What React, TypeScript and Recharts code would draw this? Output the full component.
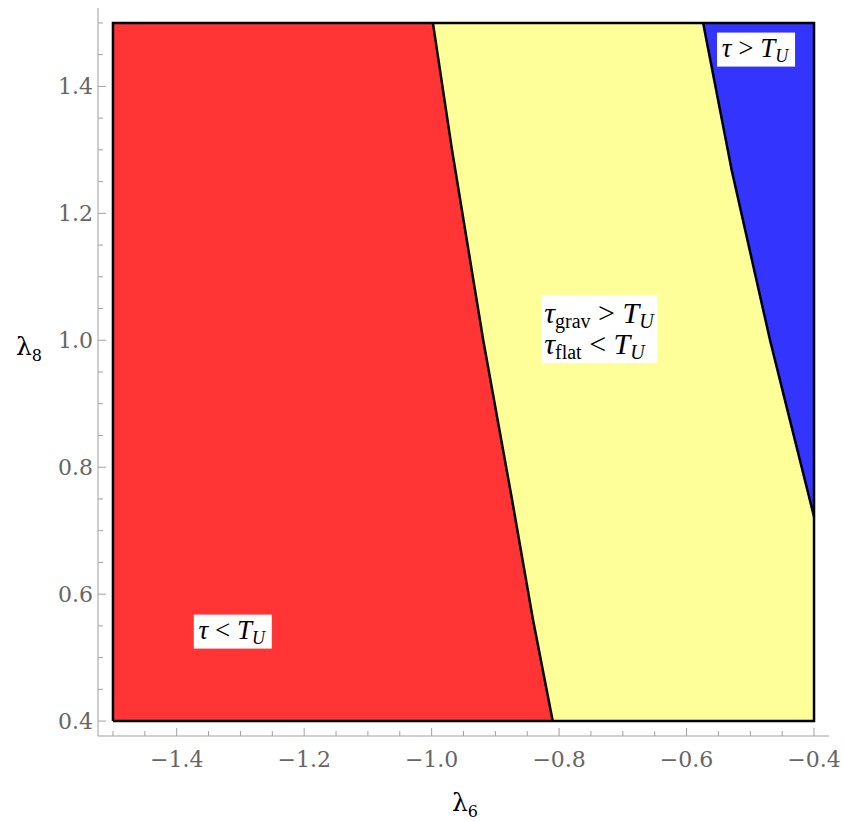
import { ComposedChart, Area, Line, Scatter, XAxis, YAxis } from 'recharts'

// boundary between tau < T_U (red) and the middle band
const leftEdgeX = [-0.998, -0.968, -0.919, -0.874, -0.841, -0.81]
const leftEdgeY = [1.5, 1.3, 1.0, 0.75, 0.56, 0.4]

// boundary between the middle band and tau > T_U (blue)
const rightEdgeX = [-0.574, -0.529, -0.469, -0.438, -0.4]
const rightEdgeY = [1.5, 1.267, 1.0, 0.875, 0.722]

const xMin = -1.5
const xMax = -0.4
const yMin = 0.4
const yMax = 1.5

const xTicks = [
  -1.5, -1.45, -1.4, -1.35, -1.3, -1.25, -1.2, -1.15, -1.1, -1.05, -1.0, -0.95,
  -0.9, -0.85, -0.8, -0.75, -0.7, -0.65, -0.6, -0.55, -0.5, -0.45, -0.4,
]
const yTicks = [
  0.4, 0.45, 0.5, 0.55, 0.6, 0.65, 0.7, 0.75, 0.8, 0.85, 0.9, 0.95, 1.0, 1.05,
  1.1, 1.15, 1.2, 1.25, 1.3, 1.35, 1.4, 1.45, 1.5,
]
const xLabeled = [-1.4, -1.2, -1.0, -0.8, -0.6, -0.4]
const yLabeled = [0.4, 0.6, 0.8, 1.0, 1.2, 1.4]

const labelX = [-1.312, -0.737, -0.491]
const labelY = [0.541, 1.018, 1.458]
const labelKind = ['below', 'middle', 'above']

const RED = '#ff3434'
const YELLOW = '#ffff99'
const BLUE = '#3434ff'
const FRAME = '#a0a0a0'
const TICK_TEXT = '#666'
const PAD = 0.0235

const left = leftEdgeX.map((x, i) => ({ x, y: leftEdgeY[i] }))
const right = rightEdgeX.map((x, i) => ({ x, y: rightEdgeY[i] }))

const redData = [
  { x: xMin, r: [yMin, yMax] },
  ...left.map((p) => ({ x: p.x, r: [yMin, p.y] })),
]
const yellowData = [
  ...left.map((p) => ({ x: p.x, r: [p.y, yMax] })),
  ...right.map((p) => ({ x: p.x, r: [yMin, p.y] })),
]
const blueData = right.map((p) => ({ x: p.x, r: [p.y, yMax] }))
const frameData = [
  { x: xMin, y: yMin },
  { x: xMin, y: yMax },
  { x: xMax, y: yMax },
  { x: xMax, y: yMin },
  { x: xMin, y: yMin },
]
const labelData = labelX.map((x, i) => ({ x, y: labelY[i], kind: labelKind[i] }))

const near = (v: number, list: number[]) => list.some((t) => Math.abs(t - v) < 1e-6)
const fmt = (v: number) => (v < 0 ? '\u2212' + Math.abs(v).toFixed(1) : v.toFixed(1))
const tickFont = { fontFamily: 'DejaVu Serif', fontSize: 22, fill: TICK_TEXT }

const BottomTick = (props: any) => {
  const { x, y, payload } = props
  const major = near(payload.value, xLabeled)
  return (
    <g>
      <line x1={x} x2={x} y1={y} y2={y - (major ? 8 : 5)} stroke={FRAME} />
      {major && (
        <text x={x} y={y + 31} textAnchor="middle" {...tickFont}>
          {fmt(payload.value)}
        </text>
      )}
    </g>
  )
}

const TopTick = (props: any) => {
  const { x, y, payload } = props
  const major = near(payload.value, xLabeled)
  return <line x1={x} x2={x} y1={y} y2={y + (major ? 8 : 5)} stroke={FRAME} />
}

const LeftTick = (props: any) => {
  const { x, y, payload } = props
  const major = near(payload.value, yLabeled)
  return (
    <g>
      <line x1={x} x2={x + (major ? 8 : 5)} y1={y} y2={y} stroke={FRAME} />
      {major && (
        <text x={x - 5} y={y} dy="0.36em" textAnchor="end" {...tickFont}>
          {fmt(payload.value)}
        </text>
      )}
    </g>
  )
}

const RightTick = (props: any) => {
  const { x, y, payload } = props
  const major = near(payload.value, yLabeled)
  return <line x1={x} x2={x - (major ? 8 : 5)} y1={y} y2={y} stroke={FRAME} />
}

const serif = 'Liberation Serif'

const RegionLabel = (props: any) => {
  const { cx, cy, payload } = props
  if (payload.kind === 'middle') {
    const fs = 30
    const sub = 20
    return (
      <g>
        <rect x={cx - 58} y={cy - 34} width={116} height={68} fill="#fff" />
        <text x={cx - 55} y={cy - 6} fontFamily={serif} fontSize={fs} fill="#000">
          <tspan fontStyle="italic">τ</tspan>
          <tspan fontSize={sub} dy={5}>grav</tspan>
          <tspan dy={-5}> &gt; </tspan>
          <tspan fontStyle="italic">T</tspan>
          <tspan fontStyle="italic" fontSize={sub} dy={5}>U</tspan>
        </text>
        <text x={cx - 55} y={cy + 25} fontFamily={serif} fontSize={fs} fill="#000">
          <tspan fontStyle="italic">τ</tspan>
          <tspan fontSize={sub} dy={5}>flat</tspan>
          <tspan dy={-5}> &lt; </tspan>
          <tspan fontStyle="italic">T</tspan>
          <tspan fontStyle="italic" fontSize={sub} dy={5}>U</tspan>
        </text>
      </g>
    )
  }
  const sign = payload.kind === 'above' ? ' > ' : ' < '
  return (
    <g>
      <rect x={cx - 39} y={cy - 17} width={78} height={34} fill="#fff" />
      <text x={cx - 1} y={cy + 7} textAnchor="middle" fontFamily={serif} fontSize={27} fill="#000">
        <tspan fontStyle="italic">τ</tspan>
        <tspan>{sign}</tspan>
        <tspan fontStyle="italic">T</tspan>
        <tspan fontStyle="italic" fontSize={18} dy={5}>U</tspan>
      </text>
    </g>
  )
}

const axisTitle = {
  position: 'absolute' as const,
  lineHeight: 1,
  fontFamily: 'DejaVu Serif',
  fontSize: 25,
  color: '#000',
}

export default function App() {
  const xDomain = [xMin - PAD, xMax + PAD]
  const yDomain = [yMin - PAD, yMax + PAD]
  return (
    <div style={{ position: 'relative', width: 844, height: 821, background: '#fff' }}>
      <style>{'body { margin: 0; }'}</style>
      <div style={{ position: 'absolute', left: 8, top: 7 }}>
        <ComposedChart width={836} height={805} margin={{ top: 1, right: 15, bottom: 0, left: 0 }}>
          <XAxis
            xAxisId="b"
            dataKey="x"
            type="number"
            domain={xDomain}
            allowDataOverflow
            ticks={xTicks}
            interval={0}
            height={76}
            tickSize={0}
            tickMargin={0}
            tickLine={false}
            axisLine={{ stroke: FRAME }}
            tick={<BottomTick />}
          />
          <XAxis
            xAxisId="t"
            orientation="top"
            dataKey="x"
            type="number"
            domain={xDomain}
            allowDataOverflow
            ticks={xTicks}
            interval={0}
            height={0}
            tickSize={0}
            tickMargin={0}
            tickLine={false}
            axisLine={{ stroke: FRAME }}
            tick={<TopTick />}
          />
          <YAxis
            yAxisId="l"
            type="number"
            domain={yDomain}
            allowDataOverflow
            ticks={yTicks}
            interval={0}
            width={90}
            tickSize={0}
            tickMargin={0}
            tickLine={false}
            axisLine={{ stroke: FRAME }}
            tick={<LeftTick />}
          />
          <YAxis
            yAxisId="r"
            orientation="right"
            type="number"
            domain={yDomain}
            allowDataOverflow
            ticks={yTicks}
            interval={0}
            width={0}
            tickSize={0}
            tickMargin={0}
            tickLine={false}
            axisLine={{ stroke: FRAME }}
            tick={<RightTick />}
          />
          <Area xAxisId="b" yAxisId="l" data={redData} dataKey="r" type="linear" fill={RED} fillOpacity={1} stroke="none" isAnimationActive={false} />
          <Area xAxisId="b" yAxisId="l" data={yellowData} dataKey="r" type="linear" fill={YELLOW} fillOpacity={1} stroke="none" isAnimationActive={false} />
          <Area xAxisId="b" yAxisId="l" data={blueData} dataKey="r" type="linear" fill={BLUE} fillOpacity={1} stroke="none" isAnimationActive={false} />
          <Line xAxisId="b" yAxisId="l" data={left} dataKey="y" type="linear" stroke="#000" strokeWidth={2.5} dot={false} isAnimationActive={false} />
          <Line xAxisId="b" yAxisId="l" data={right} dataKey="y" type="linear" stroke="#000" strokeWidth={2.5} dot={false} isAnimationActive={false} />
          <Line xAxisId="b" yAxisId="l" data={frameData} dataKey="y" type="linear" stroke="#000" strokeWidth={2.5} dot={false} isAnimationActive={false} />
          <Scatter xAxisId="b" yAxisId="l" data={labelData} dataKey="y" shape={<RegionLabel />} isAnimationActive={false} />
        </ComposedChart>
      </div>
      <div style={{ ...axisTitle, left: 16, top: 334 }}>
        λ<sub style={{ fontSize: 16 }}>8</sub>
      </div>
      <div style={{ ...axisTitle, left: 452, top: 790 }}>
        λ<sub style={{ fontSize: 16 }}>6</sub>
      </div>
    </div>
  )
}
